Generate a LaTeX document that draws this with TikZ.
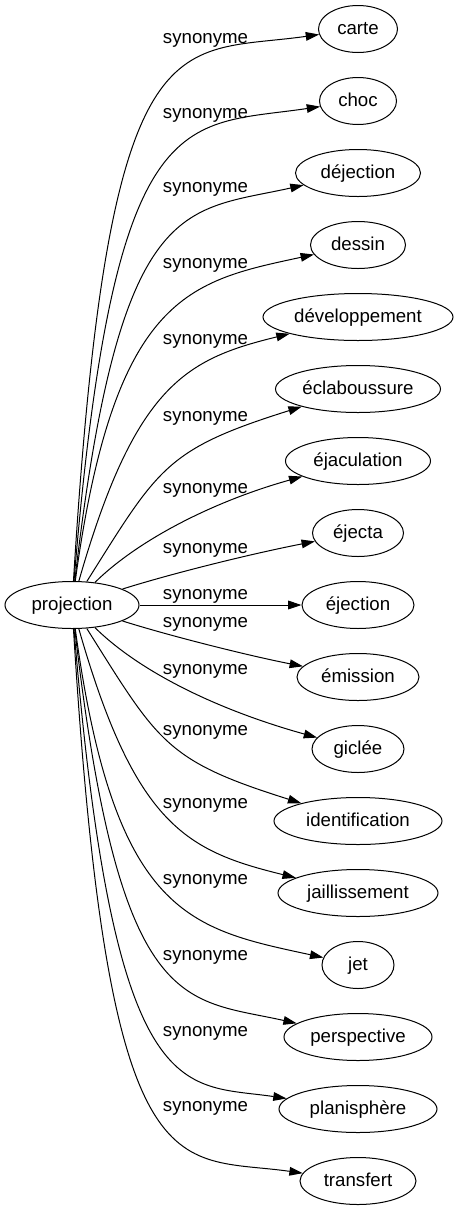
\documentclass[tikz,border=0pt]{standalone}
\usepackage{fontspec}
\setmainfont{Liberation Sans}
\usetikzlibrary{shapes.geometric,arrows.meta}
\begin{document}
\begin{tikzpicture}[x=0.75pt,y=-0.75pt,
  every node/.style={font=\fontsize{14pt}{16pt}\selectfont},
  word/.style={ellipse,draw,line width=0.75pt,inner sep=0pt,minimum height=35.25pt,text height=7.5pt,text depth=0pt},
  lbl/.style={anchor=base,inner sep=0pt},
  syn/.style={-{Triangle[length=10pt,width=6.5pt]},line width=0.75pt}]
\useasboundingbox (0,0) rectangle (458,1211);
\node[word,minimum width=100.5pt] (p) at (72,605) {projection};
\node[word,minimum width=59.25pt] (t1) at (358,29) {carte};
\node[word,minimum width=57.75pt] (t2) at (358,101) {choc};
\node[word,minimum width=93.75pt] (t3) at (358,173) {déjection};
\node[word,minimum width=71.25pt] (t4) at (358,245) {dessin};
\node[word,minimum width=142.5pt] (t5) at (358,317) {développement};
\node[word,minimum width=123.75pt] (t6) at (358,389) {éclaboussure};
\node[word,minimum width=108.75pt] (t7) at (358,461) {éjaculation};
\node[word,minimum width=68.25pt] (t8) at (358,533) {éjecta};
\node[word,minimum width=84pt] (t9) at (358,605) {éjection};
\node[word,minimum width=91.5pt] (t10) at (358,677) {émission};
\node[word,minimum width=69pt] (t11) at (358,749) {giclée};
\node[word,minimum width=126pt] (t12) at (358,821) {identification};
\node[word,minimum width=120pt] (t13) at (358,893) {jaillissement};
\node[word,minimum width=54pt] (t14) at (358,965) {jet};
\node[word,minimum width=111pt] (t15) at (358,1037) {perspective};
\node[word,minimum width=118.5pt] (t16) at (358,1109) {planisphère};
\node[word,minimum width=87pt] (t17) at (358,1181) {transfert};
\node[lbl] (l1) at (205.5,43.3) {synonyme};
\node[lbl] (l2) at (205.5,118.3) {synonyme};
\node[lbl] (l3) at (205.5,192.3) {synonyme};
\node[lbl] (l4) at (205.5,268.3) {synonyme};
\node[lbl] (l5) at (205.5,344.3) {synonyme};
\node[lbl] (l6) at (205.5,421.3) {synonyme};
\node[lbl] (l7) at (205.5,493.3) {synonyme};
\node[lbl] (l8) at (205.5,553.3) {synonyme};
\node[lbl] (l9) at (205.5,599.3) {synonyme};
\node[lbl] (l10) at (205.5,627.3) {synonyme};
\node[lbl] (l11) at (205.5,674.3) {synonyme};
\node[lbl] (l12) at (205.5,735.3) {synonyme};
\node[lbl] (l13) at (205.5,808.3) {synonyme};
\node[lbl] (l14) at (205.5,884.3) {synonyme};
\node[lbl] (l15) at (205.5,960.3) {synonyme};
\node[lbl] (l16) at (205.5,1036.3) {synonyme};
\node[lbl] (l17) at (205.5,1111.3) {synonyme};
% upper edges
\draw[syn] (p) .. controls (108.5,7.3) and (173.8,55.1) .. (t1);
\draw[syn] (p) .. controls (114,97) and (182,127) .. (t2);
\draw[syn] (p) .. controls (119.5,193) and (183,212) .. (t3);
\draw[syn] (p) .. controls (114.4,294) and (189.6,281.3) .. (t4);
\draw[syn] (p) .. controls (135.2,384.3) and (186.5,359) .. (t5);
\draw[syn] (p) .. controls (158.6,467.4) and (165.4,449.4) .. (t6);
\draw[syn] (p) .. controls (139,539) and (215.5,500.7) .. (t7);
\draw[syn] (p) .. controls (170,574) and (250,554) .. (t8);
\draw[syn] (p) -- (t9);
% lower edges (mirrored)
\draw[syn] (p) .. controls (170,636) and (250,656) .. (t10);
\draw[syn] (p) .. controls (139,671) and (215.5,709.3) .. (t11);
\draw[syn] (p) .. controls (158.6,742.6) and (165.4,760.6) .. (t12);
\draw[syn] (p) .. controls (135.2,825.7) and (186.5,851) .. (t13);
\draw[syn] (p) .. controls (114.4,916) and (189.6,928.7) .. (t14);
\draw[syn] (p) .. controls (119.5,1017) and (183,998) .. (t15);
\draw[syn] (p) .. controls (114,1113) and (182,1083) .. (t16);
\draw[syn] (p) .. controls (108.5,1202.7) and (173.8,1154.9) .. (t17);
\end{tikzpicture}
\end{document}
